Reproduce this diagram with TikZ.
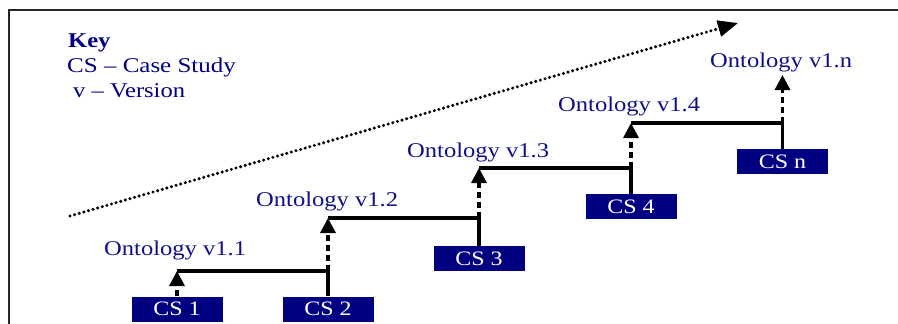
\documentclass[tikz,border=0pt]{standalone}
\usepackage{fontspec}
\setmainfont{Liberation Serif}
\usetikzlibrary{arrows.meta}
\definecolor{keynavy}{RGB}{0,0,128}
\definecolor{lblblue}{RGB}{16,16,140}
\definecolor{boxnavy}{RGB}{0,0,128}
\newcommand{\widetxt}[1]{\scalebox{1.17}[1]{#1}}
\tikzset{
  lbl/.style={text=lblblue, inner sep=0pt, anchor=base west, font=\fontsize{21}{24}\selectfont},
  keytxt/.style={lbl, text=keynavy},
  csbox/.style={fill=boxnavy, text=white, minimum width=91pt, minimum height=25pt, inner sep=0pt,
    font=\fontsize{20.5}{24}\selectfont},
  link/.style={line width=3.2pt},
  dashlink/.style={line width=3.2pt, dash pattern=on 6pt off 4pt, -{Triangle[length=15pt,width=15pt]}},
  trend/.style={line width=3.4pt, line cap=round, dash pattern=on 0pt off 4.8pt,
    -{Triangle[length=20pt,width=16pt,line cap=butt]}},
}
\begin{document}
\begin{tikzpicture}[x=1pt,y=1pt]
\useasboundingbox (0,0) rectangle (898,-324);
% open frame: left and top edges
\draw[line width=1.6pt, draw=black!85] (9,-324) -- (9,-10) -- (898,-10);

% key
\node[keytxt, font=\fontsize{21}{24}\selectfont\bfseries] (key) at (68,-47) {\widetxt{Key}};
\node[keytxt] (keycs) at (67,-72) {\scalebox{1.19}[1]{CS -- Case Study}};
\node[keytxt] (keyv) at (73,-97) {\widetxt{v -- Version}};

% case study boxes
\node[csbox] (cs1) at (177,-309) {\widetxt{CS 1}};
\node[csbox] (cs2) at (328,-309) {\widetxt{CS 2}};
\node[csbox] (cs3) at (479,-258.5) {\widetxt{CS 3}};
\node[csbox] (cs4) at (631,-206.5) {\widetxt{CS 4}};
\node[csbox] (csn) at (782.5,-161.5) {\widetxt{CS n}};

% ontology versions
\node[lbl] (v1) at (104,-255) {\widetxt{Ontology v1.1}};
\node[lbl] (v2) at (256,-206) {\widetxt{Ontology v1.2}};
\node[lbl] (v3) at (407,-157) {\widetxt{Ontology v1.3}};
\node[lbl] (v4) at (558,-111) {\widetxt{Ontology v1.4}};
\node[lbl] (vn) at (710,-67) {\widetxt{Ontology v1.n}};

% step joints
\coordinate (j1) at (177,-271);
\coordinate (j2) at (328,-218);
\coordinate (j3) at (479,-168);
\coordinate (j4) at (631,-123);
\coordinate (j5) at (782.5,-75);
\coordinate (k2) at (cs2 |- j1);
\coordinate (k3) at (cs3 |- j2);
\coordinate (k4) at (cs4 |- j3);
\coordinate (k5) at (csn |- j4);

% evolution steps
\draw[dashlink] (cs1.north) -- (j1);
\draw[link] (j1) -- (k2) -- (cs2.north);
\draw[dashlink] (k2) -- (j2);
\draw[link] (j2) -- (k3) -- (cs3.north);
\draw[dashlink] (k3) -- (j3);
\draw[link] (j3) -- (k4) -- (cs4.north);
\draw[dashlink] (k4) -- (j4);
\draw[link] (j4) -- (k5) -- (csn.north);
\draw[dashlink] (k5) -- (j5);

% overall trend
\coordinate (t0) at (70,-216);
\coordinate (t1) at (738,-23);
\draw[trend] (t0) -- (t1);
\end{tikzpicture}
\end{document}
